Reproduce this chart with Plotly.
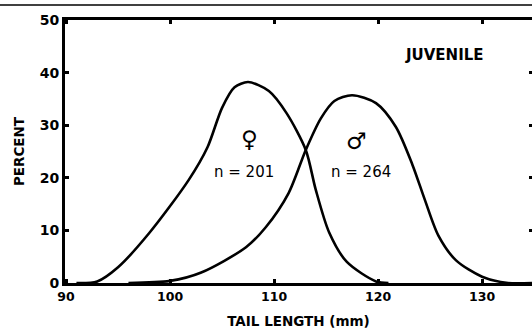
import plotly.graph_objects as go

# Data
female_x = [91.0, 93.0, 95.0, 98.0, 101.8, 103.6, 105.0, 106.2, 107.5, 109.5, 111.2,
            113.05, 114.0, 115.3, 117.0, 119.8, 121.0]
female_y = [0.0, 0.3, 3.0, 9.5, 19.6, 25.8, 33.3, 37.2, 38.2, 36.5, 32.3,
            25.3, 17.8, 9.6, 4.0, 0.3, 0.0]
male_x = [96.0, 100.0, 103.0, 107.3, 109.2, 111.4, 113.05, 114.5, 115.8, 117.5,
          119.8, 121.7, 123.3, 124.5, 125.8, 127.5, 130.0, 132.5, 134.8]
male_y = [0.0, 0.4, 2.0, 6.8, 10.6, 17.1, 25.3, 31.3, 34.6, 35.7,
          34.2, 29.7, 22.5, 15.8, 9.0, 4.3, 1.2, 0.0, 0.0]
x_ticks = [90, 100, 110, 120, 130]
y_ticks = [0, 10, 20, 30, 40, 50]

FONT = "DejaVu Sans"
fig = go.Figure()
for xs, ys in ((female_x, female_y), (male_x, male_y)):
    fig.add_trace(go.Scatter(x=xs, y=ys, mode="lines",
                             line=dict(color="black", width=2.6, shape="spline", smoothing=0.8),
                             hoverinfo="skip", showlegend=False))
fig.add_trace(go.Scatter(x=[None], y=[None], yaxis="y2", showlegend=False, hoverinfo="skip"))

fig.update_layout(
    width=532, height=332,
    margin=dict(l=65, r=0, t=20, b=49),
    paper_bgcolor="white", plot_bgcolor="white",
    font=dict(family=FONT, color="black"),
    xaxis=dict(range=[89.9, 134.8], tickvals=x_ticks, ticks="inside", ticklen=4, tickwidth=2.5,
               tickcolor="black", showline=True, linecolor="black", linewidth=3, mirror="ticks",
               showgrid=False, zeroline=False,
               tickfont=dict(size=12.5, family=FONT, weight="bold"),
               title=dict(text="TAIL LENGTH (mm)", font=dict(size=13.5, family=FONT, weight="bold"),
                          standoff=14)),
    yaxis=dict(range=[0, 50], tickvals=y_ticks, ticks="inside", ticklen=4, tickwidth=2.5,
               tickcolor="black", showline=True, linecolor="black", linewidth=3,
               showgrid=False, zeroline=False,
               tickfont=dict(size=14, family=FONT, weight="bold"),
               title=dict(text="PERCENT", font=dict(size=13.5, family=FONT, weight="bold"),
                          standoff=12)),
    yaxis2=dict(range=[0, 50], overlaying="y", side="right", tickvals=[10, 20, 30, 40],
                ticks="inside", ticklen=3, tickwidth=3, tickcolor="black",
                showticklabels=False, showline=False, showgrid=False, zeroline=False),
)

fig.add_annotation(x=126.4, y=43.3, text="JUVENILE", showarrow=False,
                   font=dict(family=FONT, size=15, color="black", weight="bold"))
fig.add_annotation(x=107.6, y=27.4, text="\u2640", showarrow=False,
                   font=dict(family=FONT, size=23, color="black"))
fig.add_annotation(x=107.1, y=21.1, text="n = 201", showarrow=False,
                   font=dict(family=FONT, size=15, color="black"))
fig.add_annotation(x=117.9, y=27.0, text="\u2642", showarrow=False,
                   font=dict(family=FONT, size=23, color="black"))
fig.add_annotation(x=118.4, y=21.1, text="n = 264", showarrow=False,
                   font=dict(family=FONT, size=15, color="black"))

# faint rule above the frame (from the scanned page)
fig.add_shape(type="line", xref="paper", yref="paper", x0=-0.14, x1=1.0, y0=1.057, y1=1.057,
              line=dict(color="black", width=1.5))

fig.write_html("out.html")
